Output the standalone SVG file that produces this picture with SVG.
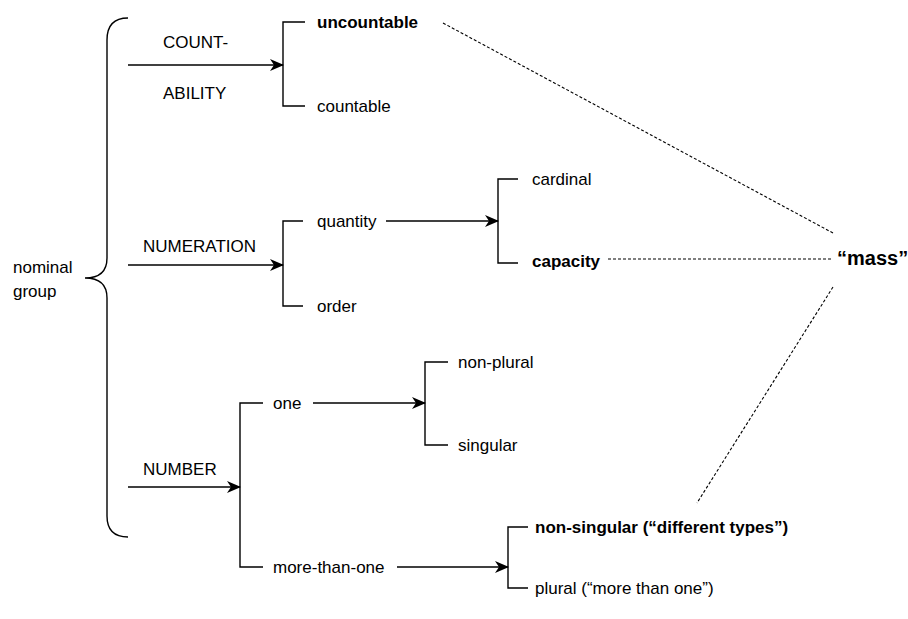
<svg xmlns="http://www.w3.org/2000/svg" width="908" height="619" viewBox="0 0 908 619">
<style>
text{font-family:"Liberation Sans",Arial,sans-serif;font-size:17px;fill:#000}
.b{font-weight:bold}
.ln{fill:none;stroke:#000;stroke-width:1.4}
.ar{fill:none;stroke:#000;stroke-width:1.4;marker-end:url(#ah)}
.dl{fill:none;stroke:#000;stroke-width:1.1;stroke-dasharray:3,2}
</style>
<defs>
<marker id="ah" viewBox="0 0 14 12" refX="13" refY="6" markerWidth="14" markerHeight="12" markerUnits="userSpaceOnUse" orient="auto">
<path d="M0,0 L14,6 L0,12 L4,6 z" fill="#000"/>
</marker>
</defs>
<rect width="908" height="619" fill="#fff"/>
<g id="root">
<path class="ln" d="M128,18 Q107,18 107,40 L107,258 Q107,278 85,278 Q107,278 107,298 L107,516 Q107,537 128,537"/>
<text x="13" y="273">nominal</text>
<text x="13" y="297">group</text>
</g>
<g id="countability">
<path class="ln" d="M305,22 H283 V106 H305"/>
<text x="163" y="48">COUNT-</text>
<text x="163" y="99">ABILITY</text>
<text class="b" x="317" y="28">uncountable</text>
<text x="317" y="112">countable</text>
</g>
<g id="numeration">
<path class="ln" d="M303,221 H283 V306 H303"/>
<text x="143" y="252">NUMERATION</text>
<text x="317" y="227">quantity</text>
<text x="317" y="312">order</text>
</g>
<g id="quantity">
<path class="ln" d="M518,179 H498 V263 H518"/>
<text x="532" y="185">cardinal</text>
<text class="b" x="532" y="267">capacity</text>
</g>
<g id="number">
<path class="ln" d="M263,403 H240 V567 H263"/>
<text x="143" y="475">NUMBER</text>
<text x="273" y="409">one</text>
<text x="273" y="573">more-than-one</text>
</g>
<g id="one">
<path class="ln" d="M448,362 H425 V445 H448"/>
<text x="458" y="368">non-plural</text>
<text x="458" y="451">singular</text>
</g>
<g id="more-than-one">
<path class="ln" d="M528,527 H508 V588 H528"/>
<text class="b" x="535" y="533">non-singular (“different types”)</text>
<text x="535" y="594">plural (“more than one”)</text>
</g>
<g id="mass">
<text class="b" x="837" y="265" style="font-size:20px">“mass”</text>
</g>
<g id="connectors">
<path class="ar" d="M128,65 H283"/>
<path class="ar" d="M128,265 H283"/>
<path class="ar" d="M386,221 H498"/>
<path class="ar" d="M128,487 H240"/>
<path class="ar" d="M313,403 H425"/>
<path class="ar" d="M397,567 H508"/>
<path class="dl" d="M443,23 L833,233"/>
<path class="dl" d="M608,259 H833"/>
<path class="dl" d="M833,287 L697,503"/>
</g>
</svg>
